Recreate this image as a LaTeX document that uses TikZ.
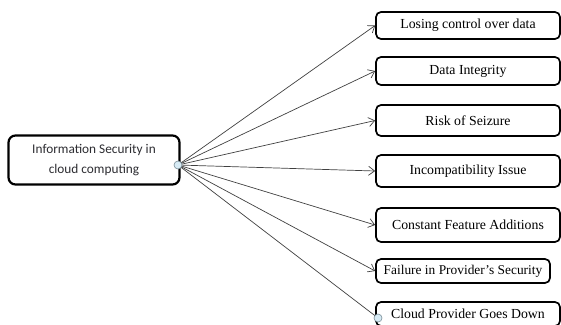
\documentclass[tikz,border=0pt]{standalone}
\usepackage{fontspec}
\setmainfont{Liberation Serif}
\newfontfamily\calfont{Carlito}
\usetikzlibrary{arrows.meta}
\definecolor{hubblue}{RGB}{215, 235, 245}
\definecolor{hubgray}{RGB}{120, 140, 150}
\definecolor{textgray}{RGB}{45, 45, 50}

\begin{document}
\begin{tikzpicture}[x=1pt, y=-1pt,
    issue/.style={draw=black, line width=1.7pt, rounded corners=5pt, fill=white,
      minimum width=184pt, inner sep=0pt, font=\fontsize{13.8}{16}\selectfont},
    mainbox/.style={draw=black, line width=2.2pt, rounded corners=7pt, fill=white,
      minimum width=171pt, minimum height=49pt, align=center, text=textgray,
      font=\calfont\fontsize{13.3}{20}\selectfont},
    link/.style={draw=black!75, line width=0.7pt, -{Straight Barb[length=6pt, width=9pt]}},
    dot/.style={circle, draw=hubgray, fill=hubblue, line width=0.6pt, minimum size=8pt, inner sep=0pt}]
    \useasboundingbox (0,0) rectangle (561,324);

    %% main topic
    \node[mainbox] (info) at (94,160) {Information Security in\\cloud computing};

    %% issues on the right
    \node[issue, minimum height=27pt] (lose) at (468,25.5) {Losing control over data};
    \node[issue, minimum height=28pt] (integ) at (468,71) {Data Integrity};
    \node[issue, minimum height=31pt] (seize) at (468,120.5) {Risk of Seizure};
    \node[issue, minimum height=32pt] (incompat) at (468,171) {Incompatibility Issue};
    \node[issue, minimum height=34pt] (feature) at (468,225) {Constant Feature Additions};
    \node[issue, minimum width=174pt, minimum height=24pt, font=\fontsize{13.4}{16}\selectfont] (failure) at (463,271) {Failure in Provider's Security};
    \node[issue, minimum height=24pt] (down) at (468,314) {Cloud Provider Goes Down};

    %% connectors
    \coordinate (hubpt) at (178,165);
    \coordinate (tailpt) at (378,318);
    \draw[link] (hubpt) -- (lose.west);
    \draw[link] (hubpt) -- (integ.west);
    \draw[link] (hubpt) -- (seize.west);
    \draw[link] (hubpt) -- (incompat.west);
    \draw[link] (hubpt) -- (feature.west);
    \draw[link] (hubpt) -- (failure.west);
    \draw[draw=black!75, line width=0.7pt] (hubpt) -- (tailpt);
    \node[dot] (hub) at (hubpt) {};
    \node[dot] (tail) at (tailpt) {};
  \end{tikzpicture}
\end{document}
